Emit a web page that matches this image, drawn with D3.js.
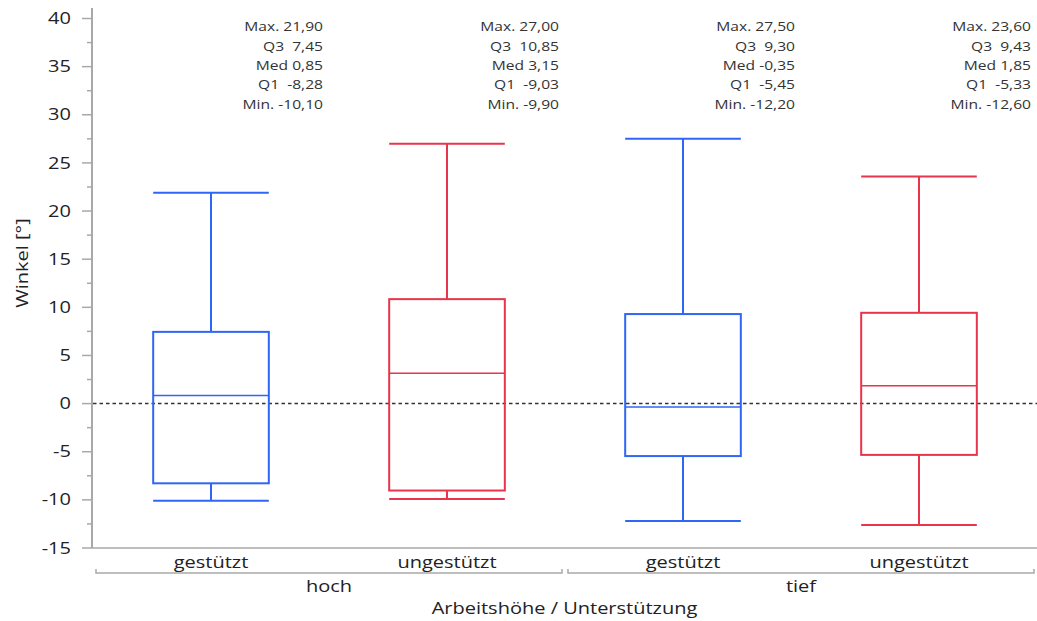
<!DOCTYPE html>
<html>
<head>
<meta charset="utf-8">
<script src="https://cdn.jsdelivr.net/npm/d3@7"></script>
<style>
  html, body { margin: 0; padding: 0; background: #fff; }
  svg { display: block; }
  text { font-family: "Open Sans", "Noto Sans", sans-serif; }
</style>
</head>
<body>
<svg id="chart" width="1037" height="621"></svg>
<script>
// Box-plot statistics per group (Winkel in degrees)
const groups   = ["hoch", "hoch", "tief", "tief"];
const supports = ["gestützt", "ungestützt", "gestützt", "ungestützt"];
const maxVals  = [21.90, 27.00, 27.50, 23.60];
const q3Vals   = [7.45, 10.85, 9.30, 9.43];
const medVals  = [0.85, 3.15, -0.35, 1.85];
const q1Vals   = [-8.28, -9.03, -5.45, -5.33];
const minVals  = [-10.10, -9.90, -12.20, -12.60];
const yTicks   = [-15, -10, -5, 0, 5, 10, 15, 20, 25, 30, 35, 40];
const yMinor   = [-12.5, -7.5, -2.5, 2.5, 7.5, 12.5, 17.5, 22.5, 27.5, 32.5, 37.5];
const groupNames = ["hoch", "tief"];

const BLUE = "#2f66f5", RED = "#e8354c", GRAY = "#a9a9a9", TXT = "#222";
const SX = 1.25; // horizontal text widening

const svg = d3.select("#chart");
const mLeft = 92, mRight = 1037, mTop = 18.5, mBottom = 548;

const keys = supports.map((s, i) => i);
const x = d3.scaleBand().domain(keys).range([mLeft + 1, mRight]).paddingInner(0).paddingOuter(0);
const y = d3.scaleLinear().domain([-15, 40]).range([mBottom, mTop]);

const fmt = v => v.toFixed(2).replace(".", ",");

// widened text helper
function stext(g, tx, ty, str, opts = {}) {
  const tf = opts.rotate
    ? `translate(${tx},${ty}) rotate(${opts.rotate}) scale(${SX},1)`
    : `translate(${tx},${ty}) scale(${SX},1)`;
  return g.append("g")
    .attr("transform", tf)
    .append("text")
    .attr("text-anchor", opts.anchor || "middle")
    .attr("font-size", opts.size || 16)
    .attr("fill", opts.fill || TXT)
    .attr("dy", opts.dy || "0.35em")
    .style("white-space", "pre")
    .text(str);
}

// y axis
const yAxisG = svg.append("g").attr("class", "y-axis");
yAxisG.append("line").attr("x1", mLeft).attr("x2", mLeft).attr("y1", 8).attr("y2", mBottom)
  .attr("stroke", GRAY).attr("stroke-width", 2);
yAxisG.selectAll("line.major").data(yTicks).join("line").attr("class", "major")
  .attr("x1", mLeft - 10).attr("x2", mLeft).attr("y1", d => y(d)).attr("y2", d => y(d))
  .attr("stroke", GRAY).attr("stroke-width", 1.5);
yAxisG.selectAll("line.minor").data(yMinor).join("line").attr("class", "minor")
  .attr("x1", mLeft - 5).attr("x2", mLeft).attr("y1", d => y(d)).attr("y2", d => y(d))
  .attr("stroke", GRAY).attr("stroke-width", 1.5);
yTicks.forEach(t => stext(yAxisG, mLeft - 21, y(t), String(t), { anchor: "end", size: 16 }));

// y title
stext(svg, 22, 263, "Winkel [°]", { rotate: -90, size: 16 });

// x axis line
svg.append("line").attr("x1", mLeft).attr("x2", mRight).attr("y1", mBottom).attr("y2", mBottom)
  .attr("stroke", GRAY).attr("stroke-width", 1.5);

// zero reference line
svg.append("line").attr("x1", mLeft + 1).attr("x2", mRight).attr("y1", y(0)).attr("y2", y(0))
  .attr("stroke", "#333").attr("stroke-width", 1.5).attr("stroke-dasharray", "3.5,3");

// boxes
const bw = x.bandwidth() * 0.49;
keys.forEach(i => {
  const cx = x(i) + x.bandwidth() / 2;
  const col = i % 2 === 0 ? BLUE : RED;
  const g = svg.append("g").attr("stroke", col).attr("stroke-width", 2).attr("fill", "none");
  // whiskers
  g.append("line").attr("x1", cx).attr("x2", cx).attr("y1", y(maxVals[i])).attr("y2", y(q3Vals[i]));
  g.append("line").attr("x1", cx).attr("x2", cx).attr("y1", y(q1Vals[i])).attr("y2", y(minVals[i]));
  g.append("line").attr("x1", cx - bw / 2).attr("x2", cx + bw / 2).attr("y1", y(maxVals[i])).attr("y2", y(maxVals[i]));
  g.append("line").attr("x1", cx - bw / 2).attr("x2", cx + bw / 2).attr("y1", y(minVals[i])).attr("y2", y(minVals[i]));
  // box
  g.append("rect").attr("x", cx - bw / 2).attr("width", bw)
    .attr("y", y(q3Vals[i])).attr("height", y(q1Vals[i]) - y(q3Vals[i]));
  // median
  g.append("line").attr("x1", cx - bw / 2).attr("x2", cx + bw / 2).attr("y1", y(medVals[i])).attr("y2", y(medVals[i]))
    .attr("stroke-width", 1.5);

  // statistics block
  const tx = x(i) + x.bandwidth() - 6;
  const lines = [
    "Max. " + fmt(maxVals[i]),
    "Q3  " + fmt(q3Vals[i]),
    "Med " + fmt(medVals[i]),
    "Q1  " + fmt(q1Vals[i]),
    "Min. " + fmt(minVals[i])
  ];
  lines.forEach((s, k) => stext(svg, tx, 27 + k * 19.3, s, { anchor: "end", size: 12.5, fill: "#333" }));

  // category label
  stext(svg, cx, 562, supports[i], { size: 16 });
});

// group brackets
groupNames.forEach((gname, gi) => {
  const x0 = x(gi * 2), x1 = x(gi * 2 + 1) + x.bandwidth();
  const bx0 = x0 + 3, bx1 = x1 - 3;
  svg.append("path")
    .attr("d", `M${bx0},569V573H${bx1}V569`)
    .attr("fill", "none").attr("stroke", GRAY).attr("stroke-width", 1.5);
  stext(svg, (x0 + x1) / 2, 586, gname, { size: 16 });
});

// x title
stext(svg, (mLeft + mRight) / 2, 608, "Arbeitshöhe / Unterstützung", { size: 16 });
</script>
</body>
</html>
